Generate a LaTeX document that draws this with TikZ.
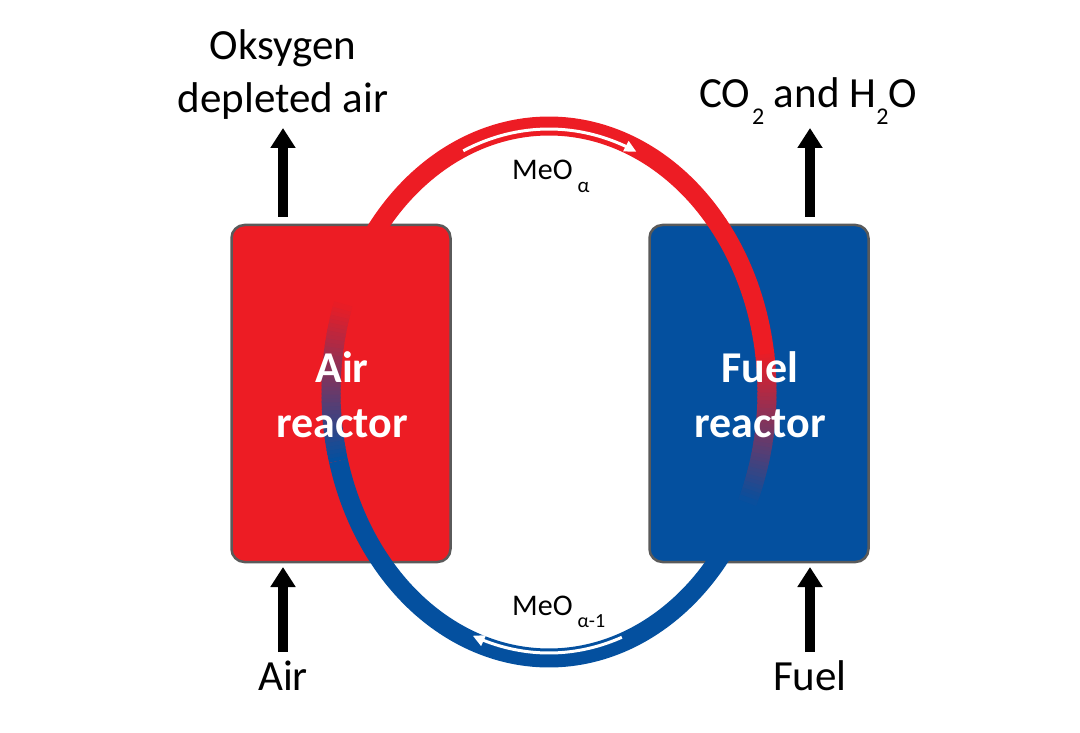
\documentclass[tikz,border=0pt]{standalone}
\usepackage{fontspec}
\setmainfont{Carlito}
\usetikzlibrary{arrows.meta}
\definecolor{airred}{HTML}{ED1C24}
\definecolor{fuelblue}{HTML}{04509F}
\definecolor{boxedge}{HTML}{5A5A5A}
\tikzset{
 reactor/.style={draw=boxedge, line width=2.5pt, rounded corners=13pt, minimum width=219pt, minimum height=337pt, inner sep=0pt},
 boxtext/.style={text=white, font=\bfseries\fontsize{44}{44}\selectfont, anchor=base, inner sep=0pt},
 plaintext/.style={text=black, font=\fontsize{43}{43}\selectfont, anchor=base, inner sep=0pt},
 flowarrow/.style={line width=10pt, -{Triangle[length=20pt,width=24pt]}},
 band/.style={line width=19pt, line cap=butt},
 whitearrow/.style={draw=white, line width=3pt, -{Triangle[length=12pt,width=11pt]}},
 meo/.style={font=\fontsize{30}{30}\selectfont, anchor=base west, inner sep=0pt},
}
\begin{document}
\begin{tikzpicture}[x=1pt,y=-1pt]
\useasboundingbox (0,0) rectangle (1080,733);
% reactors
\node[reactor, fill=airred] (air) at (341,393.5) {};
\node[reactor, fill=fuelblue] (fuel) at (759,393.5) {};
% blue band (reduced oxide) with fade on the air side
\draw[band, fuelblue] plot[domain=-165:-20, samples=120] ({549+218*cos(\x)},{392-266*sin(\x)});
\foreach \i in {0,...,39} {
  \pgfmathsetmacro{\ta}{-165-\i*0.85}
  \pgfmathsetmacro{\tb}{\ta-1.2}
  \pgfmathtruncatemacro{\p}{100-\i*2.5}
  \draw[band, color=fuelblue!\p!airred] plot[domain=\tb:\ta, samples=3] ({549+218*cos(\x)},{392-266*sin(\x)});
}
% red band (oxidised) with fade on the fuel side
\draw[band, airred] plot[domain=8.5:160, samples=120] ({549+218*cos(\x)},{392-266*sin(\x)});
\foreach \i in {0,...,39} {
  \pgfmathsetmacro{\ta}{9-\i*0.83}
  \pgfmathsetmacro{\tb}{\ta-1.2}
  \pgfmathtruncatemacro{\p}{100-\i*2.5}
  \draw[band, color=airred!\p!fuelblue] plot[domain=\tb:\ta, samples=3] ({549+218*cos(\x)},{392-266*sin(\x)});
}
% white direction arrows
\draw[whitearrow] plot[domain=0:47.5, samples=40] ({549+215*cos(113.5-\x)},{392-263*sin(113.5-\x)});
\draw[whitearrow] plot[domain=0:41, samples=40] ({549+213*cos(-70-\x)},{392-261*sin(-70-\x)});
% reactor texts
\node[boxtext] (airt1) at (342,382) {Air};
\node[boxtext] (airt2) at (342,437) {reactor};
\node[boxtext] (fuelt1) at (760,382) {Fuel};
\node[boxtext] (fuelt2) at (760,437) {reactor};
% MeO labels
\node[meo] (meotop) at (512,180) {MeO\hspace{5pt}\raisebox{-13pt}{\fontsize{21}{21}\selectfont α}};
\node[meo] (meobot) at (512,615) {MeO\hspace{5pt}\raisebox{-12pt}{\fontsize{20}{20}\selectfont α-1}};
% outer labels
\node[plaintext] (oks) at (283,60) {Oksygen};
\node[plaintext] (dep) at (283,113) {depleted air};
\node[plaintext] (co2) at (808,108) {CO\hspace{2pt}\raisebox{-17pt}{\fontsize{24}{24}\selectfont 2} and H\raisebox{-17pt}{\fontsize{24}{24}\selectfont 2}O};
\node[plaintext] (airin) at (283,690) {Air};
\node[plaintext] (fuelin) at (810,690) {Fuel};
% black flow arrows
\coordinate (aoS) at (283,217); \coordinate (aoE) at (283,128);
\coordinate (aiS) at (283,652); \coordinate (aiE) at (283,567);
\coordinate (foS) at (810,217); \coordinate (foE) at (810,128);
\coordinate (fiS) at (810,652); \coordinate (fiE) at (810,567);
\draw[flowarrow] (aoS) -- (aoE);
\draw[flowarrow] (aiS) -- (aiE);
\draw[flowarrow] (foS) -- (foE);
\draw[flowarrow] (fiS) -- (fiE);
\end{tikzpicture}
\end{document}
